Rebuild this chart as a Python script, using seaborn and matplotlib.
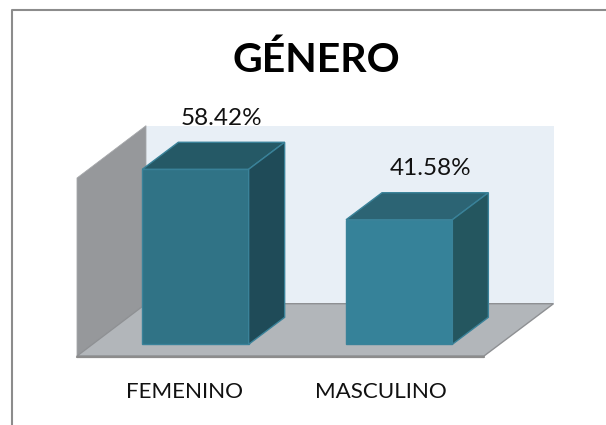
import matplotlib
matplotlib.use("Agg")
import matplotlib.pyplot as plt
import seaborn as sns
from matplotlib.patches import Polygon
from matplotlib.lines import Line2D
from matplotlib.transforms import IdentityTransform

categories = ["FEMENINO", "MASCULINO"]
values = [58.42, 41.58]
value_labels = ["58.42%", "41.58%"]
title = "GÉNERO"

W, H = 606, 425
front_colors = ["#307386", "#368299"]
top_colors = ["#255966", "#2C6474"]
side_colors = ["#1F4B58", "#24565F"]
edge_color = "#3A8299"
label_shift_px = [26, 31]
tick_positions = [-0.052, 0.911]

sns.set_theme(style="white")
plt.rcParams["font.family"] = ["Lato", "DejaVu Sans"]

fig = plt.figure(figsize=(W / 100, H / 100), dpi=100, facecolor="white")

BASE_PX = 344.3
PX_PER_VALUE = 2.996
SPACING = 203.7
C0 = 195.5
ax = fig.add_axes([0, (H - BASE_PX) / H, 1, BASE_PX / H])
ax.patch.set_visible(False)

sns.barplot(x=categories, y=values, hue=categories, palette=front_colors, width=0.522,
            legend=False, ax=ax, saturation=1, edgecolor=edge_color, linewidth=1, clip_on=False)
ax.set_xlim(-C0 / SPACING, (W - C0) / SPACING)
ax.set_ylim(0, BASE_PX / PX_PER_VALUE)
sns.despine(ax=ax, left=True, bottom=True, top=True, right=True)
ax.set_yticks([])
ax.set_xticks(tick_positions, categories)
ax.tick_params(axis="x", length=0, pad=27, labelsize=16.1, labelcolor="#111111")
ax.set_ylabel("")
ax.set_xlabel("")

# Chart furniture in pixel coordinates (y measured from the top of the image)
def px(points):
    return [(x, H - y) for x, y in points]

def chrome(points, **kw):
    fig.add_artist(Polygon(px(points), closed=True, transform=IdentityTransform(), zorder=-2, **kw))

chrome([(146, 125.7), (553.5, 125.7), (553.5, 303.7), (146, 303.7)], facecolor="#E8EFF6", edgecolor="none")
chrome([(77, 178), (146, 125.7), (146, 303.7), (77, 356)], facecolor="#96989B", edgecolor="#A6A8AB", linewidth=0.6)
chrome([(77, 356), (146, 303.7), (553.5, 303.7), (484, 356)], facecolor="#B2B6BA", edgecolor="#8E9093", linewidth=1)
fig.add_artist(Line2D([77, 484], [H - 356.5, H - 356.5], color="#8C8C8C", linewidth=1.6,
                      transform=IdentityTransform(), zorder=-1))
fig.add_artist(Line2D([11.5, 11.5, W], [0, H - 9.5, H - 9.5], color="#8C8C8C", linewidth=1.5,
                      transform=IdentityTransform(), zorder=-1))

# 3D faces built from the bars that seaborn drew
DX = 36 / SPACING
DY = 27 / PX_PER_VALUE
for i, bar in enumerate(ax.patches):
    x0, w, h = bar.get_x(), bar.get_width(), bar.get_height()
    ax.add_patch(Polygon([(x0, h), (x0 + DX, h + DY), (x0 + w + DX, h + DY), (x0 + w, h)],
                         facecolor=top_colors[i], edgecolor=edge_color, linewidth=1,
                         clip_on=False, zorder=3))
    ax.add_patch(Polygon([(x0 + w, 0), (x0 + w + DX, DY), (x0 + w + DX, h + DY), (x0 + w, h)],
                         facecolor=side_colors[i], edgecolor=edge_color, linewidth=1,
                         clip_on=False, zorder=3))
    ax.annotate(value_labels[i], xy=(x0 + w / 2, h), xytext=(label_shift_px[i] * 0.72, 44.5 * 0.72),
                textcoords="offset points", ha="center", va="baseline", fontsize=17.5,
                color="#111111", annotation_clip=False)

fig.text(316 / W, 1 - 72 / H, title, ha="center", va="baseline", fontsize=29.5,
         fontweight="bold", color="black")

fig.savefig("out.png", dpi=100)
